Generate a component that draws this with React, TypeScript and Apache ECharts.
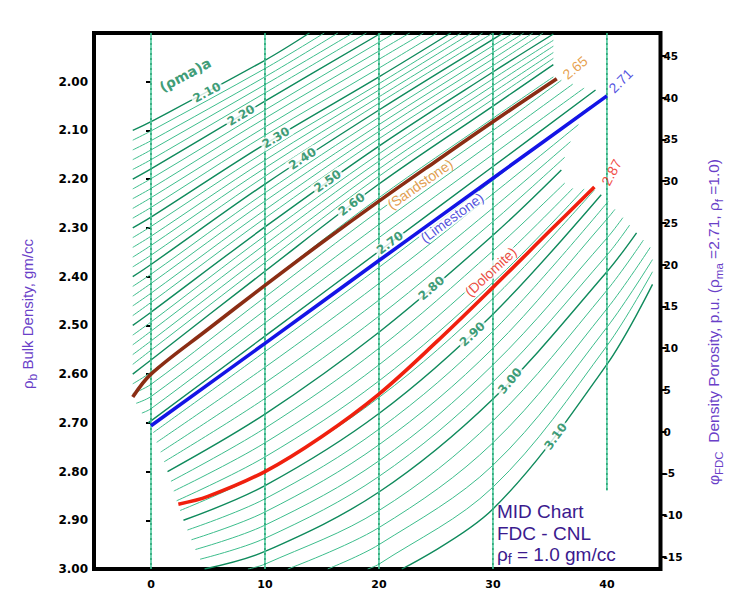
import React, { useEffect, useRef } from "react";
import * as echarts from "echarts";

// Apparent matrix density contours, (rho_ma)a in g/cc, one line every 0.02
const rhoMa = [
  2.1, 2.12, 2.14, 2.16, 2.18, 2.2, 2.22, 2.24, 2.26, 2.28,
  2.3, 2.32, 2.34, 2.36, 2.38, 2.4, 2.42, 2.44, 2.46, 2.48,
  2.5, 2.52, 2.54, 2.56, 2.58, 2.6, 2.62, 2.64, 2.66, 2.68,
  2.7, 2.72, 2.74, 2.76, 2.78, 2.8, 2.82, 2.84, 2.86, 2.88,
  2.9, 2.92, 2.94, 2.96, 2.98, 3.0, 3.02, 3.04, 3.06, 3.08, 3.1,
];

// First point of each contour [phiN (CNL, p.u.), rhoB (g/cc)]
const contourStart: [number, number][] = [
  [-1.6, 2.1], [-1.6, 2.12], [-1.6, 2.14], [-1.6, 2.16], [-1.6, 2.18],
  [-1.6, 2.2], [-1.6, 2.22], [-1.6, 2.24], [-1.6, 2.26], [-1.6, 2.28],
  [-1.6, 2.3], [-1.6, 2.32], [-1.6, 2.34], [-1.6, 2.36], [-1.6, 2.38],
  [-1.6, 2.4], [-1.6, 2.42], [-1.6, 2.44], [-1.6, 2.46], [-1.6, 2.48],
  [-1.6, 2.5], [-1.6, 2.52], [-1.6, 2.54], [-1.6, 2.56], [-1.6, 2.58],
  [-1.6, 2.6], [-1.6, 2.62], [-1.6, 2.64], [-1.3, 2.66], [-0.8, 2.68],
  [-0.25, 2.7], [0.2, 2.72], [0.5, 2.74], [0.85, 2.76], [1.15, 2.78],
  [1.45, 2.8], [1.75, 2.82], [2.0, 2.84], [2.25, 2.86], [2.55, 2.88],
  [2.85, 2.9], [3.2, 2.92], [3.55, 2.94], [3.9, 2.96], [4.3, 2.98],
  [4.7, 3.0], [8.5, 3.0], [12.0, 3.0], [15.5, 3.0], [19.0, 3.0], [22.0, 3.0],
];

// Bulk density of each contour where it crosses phiN = 0, 10, 20, 30, 40
const rhoAtPhi0 = [
  2.082, 2.101, 2.121, 2.14, 2.16, 2.179, 2.199, 2.219, 2.238, 2.258,
  2.278, 2.297, 2.317, 2.336, 2.356, 2.375, 2.395, 2.414, 2.434, 2.453,
  2.473, 2.493, 2.512, 2.532, 2.551, 2.571, 2.596, 2.621, 2.646, 2.671,
  2.696, null, null, null, null, null, null, null, null, null,
  null, null, null, null, null, null, null, null, null, null, null,
];
const rhoAtPhi10 = [
  1.956, 1.973, 1.99, 2.006, 2.023, 2.04, 2.058, 2.075, 2.093, 2.11,
  2.128, 2.144, 2.161, 2.177, 2.194, 2.21, 2.228, 2.245, 2.263, 2.28,
  2.298, 2.316, 2.334, 2.353, 2.371, 2.389, 2.416, 2.442, 2.469, 2.495,
  2.522, 2.554, 2.586, 2.618, 2.65, 2.682, 2.711, 2.741, 2.77, 2.8,
  2.829, 2.856, 2.883, 2.91, 2.937, 2.964, 2.99, null, null, null, null,
];
const rhoAtPhi20 = [
  null, null, null, null, null, null, 1.919, 1.937, 1.954, 1.972,
  1.99, 2.004, 2.017, 2.031, 2.044, 2.058, 2.073, 2.088, 2.102, 2.117,
  2.132, 2.148, 2.163, 2.179, 2.194, 2.21, 2.238, 2.265, 2.293, 2.32,
  2.348, 2.381, 2.414, 2.448, 2.481, 2.514, 2.547, 2.581, 2.614, 2.648,
  2.681, 2.713, 2.745, 2.778, 2.81, 2.842, 2.88, 2.915, 2.95, 2.99, null,
];
const rhoAtPhi30 = [
  null, null, null, null, null, null, null, null, null, null,
  null, null, null, null, null, 1.913, 1.926, 1.94, 1.953, 1.967,
  1.98, 1.994, 2.008, 2.022, 2.036, 2.05, 2.075, 2.1, 2.124, 2.149,
  2.174, 2.202, 2.23, 2.259, 2.287, 2.315, 2.347, 2.38, 2.412, 2.445,
  2.477, 2.512, 2.547, 2.581, 2.616, 2.651, 2.696, 2.741, 2.787, 2.832, 2.877,
];
const rhoAtPhi40 = [
  null, null, null, null, null, null, null, null, null, null,
  null, null, null, null, null, null, null, null, null, null,
  null, null, null, null, null, null, null, null, null, null,
  null, null, null, null, null, null, null, null, null, null,
  null, null, 2.282, 2.321, 2.356, 2.39, 2.428, 2.466, 2.504, 2.542, 2.58,
];
const columnPhi = [0, 10, 20, 30, 40];

// Last point of each contour [phiN, rhoB]
const contourEnd: [number, number][] = [
  [13.9, 1.9], [15.2, 1.9], [16.4, 1.9], [17.7, 1.9], [18.9, 1.9],
  [20.2, 1.9], [21.4, 1.9], [22.7, 1.9], [23.9, 1.9], [25.1, 1.9],
  [26.3, 1.9], [27.2, 1.9], [28.1, 1.9], [29.1, 1.9], [30.0, 1.9],
  [30.9, 1.9], [31.8, 1.9], [32.7, 1.9], [33.5, 1.9], [34.4, 1.9],
  [35.3, 1.902], [35.3, 1.915], [35.3, 1.927], [35.3, 1.94], [35.3, 1.952],
  [35.3, 1.965], [35.3, 1.99], [36.0, 1.997], [37.0, 2.005], [38.0, 2.013],
  [39.0, 2.017], [38.5, 2.051], [37.5, 2.088], [36.8, 2.123], [36.3, 2.155],
  [36.0, 2.181], [36.3, 2.208], [37.0, 2.219], [38.0, 2.22], [38.9, 2.222],
  [39.5, 2.232], [40.1, 2.246], [40.7, 2.262], [41.4, 2.279], [42.0, 2.294],
  [42.6, 2.31], [43.2, 2.325], [43.8, 2.34], [44.0, 2.365], [44.0, 2.39], [44.0, 2.416],
];

// Lithology lines [phiN, rhoB]
const sandstone: [number, number][] = [
  [-1.6, 2.647], [0, 2.6], [5, 2.508], [10, 2.418], [15, 2.33],
  [20, 2.245], [25, 2.163], [30, 2.082], [35.6, 1.994],
];
const limestone: [number, number][] = [
  [0, 2.706], [10, 2.537], [20, 2.367], [30, 2.198], [40, 2.029],
];
const dolomite: [number, number][] = [
  [2.4, 2.867], [5, 2.851], [10, 2.8], [15, 2.728], [20, 2.641],
  [25, 2.535], [30, 2.422], [35, 2.306], [38.9, 2.216],
];

// Axis ticks
const neutronTicks = [0, 10, 20, 30, 40];
const bulkDensityTicks = [2.0, 2.1, 2.2, 2.3, 2.4, 2.5, 2.6, 2.7, 2.8, 2.9, 3.0];
const porosityTicks = [-15, -10, -5, 0, 5, 10, 15, 20, 25, 30, 35, 40, 45];

// Vertical reference lines at the neutron porosity grid values
const verticalPhi = [0, 10, 20, 30, 40];
const verticalBottom = [3.0, 3.0, 3.0, 3.0, 2.839];

// Contour value labels, placed on their lines
const contourLabels = [
  { text: "(ρma)a", phi: 3.0, rho: 1.986, angle: 28, boxed: false },
  { text: "2.10", phi: 4.9, rho: 2.022, angle: 28, boxed: true },
  { text: "2.20", phi: 7.9, rho: 2.069, angle: 30, boxed: true },
  { text: "2.30", phi: 10.96, rho: 2.115, angle: 31, boxed: true },
  { text: "2.40", phi: 13.3, rho: 2.158, angle: 33, boxed: true },
  { text: "2.50", phi: 15.5, rho: 2.204, angle: 35, boxed: true },
  { text: "2.60", phi: 17.6, rho: 2.252, angle: 37, boxed: true },
  { text: "2.70", phi: 20.96, rho: 2.331, angle: 37, boxed: true },
  { text: "2.80", phi: 24.6, rho: 2.424, angle: 41, boxed: true },
  { text: "2.90", phi: 28.2, rho: 2.518, angle: 43, boxed: true },
  { text: "3.00", phi: 31.5, rho: 2.614, angle: 50, boxed: true },
  { text: "3.10", phi: 35.5, rho: 2.728, angle: 54, boxed: true },
];

// Lithology names and matrix densities
const lithologyLabels = [
  { text: "(Sandstone)", phi: 23.6, rho: 2.21, angle: 35, color: "#dc8420", boxed: true },
  { text: "(Limestone)", phi: 26.4, rho: 2.279, angle: 36, color: "#2727d4", boxed: true },
  { text: "(Dolomite)", phi: 29.8, rho: 2.39, angle: 43, color: "#e8200e", boxed: true },
  { text: "2.65", phi: 37.2, rho: 1.971, angle: 40, color: "#e08a22", boxed: false },
  { text: "2.71", phi: 41.2, rho: 1.998, angle: 45, color: "#2a2ad8", boxed: false },
  { text: "2.87", phi: 40.4, rho: 2.186, angle: 62, color: "#ee2211", boxed: false },
];

const TICK_FONT = "DejaVu Sans";
const TEXT_FONT = "Liberation Sans";
const PURPLE = "#6a3fc8";
const INDIGO = "#3b1a8e";

function buildOption() {
  const columns = [rhoAtPhi0, rhoAtPhi10, rhoAtPhi20, rhoAtPhi30, rhoAtPhi40];
  const series: any[] = [];

  rhoMa.forEach((value, i) => {
    const pts: [number, number][] = [contourStart[i]];
    columns.forEach((col, c) => {
      const v = col[i];
      if (v != null) pts.push([columnPhi[c], v]);
    });
    pts.push(contourEnd[i]);
    const major = Math.round(value * 100) % 10 === 0;
    series.push({
      type: "line",
      name: "ρma " + value.toFixed(2),
      data: pts,
      smooth: 0.35,
      symbol: "none",
      silent: true,
      z: 2,
      lineStyle: { color: major ? "#0f8a5c" : "#3dbd8c", width: major ? 1.4 : 1 },
    });
  });

  verticalPhi.forEach((phi, i) => {
    const data = [[phi, 1.9], [phi, verticalBottom[i]]];
    series.push({
      type: "line", data, symbol: "none", silent: true, z: 3,
      lineStyle: { color: "#4cc99d", width: 1.6 },
    });
    series.push({
      type: "line", data, symbol: "none", silent: true, z: 3,
      lineStyle: { color: "#13925f", width: 1.1, type: [2, 3] },
    });
  });

  series.push({
    type: "scatter",
    silent: true,
    z: 4,
    symbolSize: 1,
    itemStyle: { color: "rgba(0,0,0,0)" },
    data: contourLabels.map((l) => ({
      value: [l.phi, l.rho],
      label: {
        show: true,
        position: "inside",
        formatter: l.text,
        rotate: l.angle,
        color: "#0b8354",
        fontFamily: TICK_FONT,
        fontWeight: "bold",
        fontSize: l.boxed ? 12 : 14,
        backgroundColor: l.boxed ? "#fff" : "transparent",
        padding: [0, 2],
      },
    })),
  });

  series.push({
    type: "scatter",
    silent: true,
    z: 5,
    symbolSize: 1,
    itemStyle: { color: "rgba(0,0,0,0)" },
    data: lithologyLabels.map((l) => ({
      value: [l.phi, l.rho],
      label: {
        show: true,
        position: "inside",
        formatter: l.text,
        rotate: l.angle,
        color: l.color,
        fontFamily: TEXT_FONT,
        fontSize: 14,
        backgroundColor: l.boxed ? "#fff" : "transparent",
        padding: [0, 1],
      },
    })),
  });

  const lith = [
    { data: sandstone, color: "#8b2d14" },
    { data: limestone, color: "#1414e6" },
    { data: dolomite, color: "#f0200e" },
  ];
  lith.forEach((l) => {
    series.push({
      type: "line", data: l.data, smooth: 0.35,
      symbol: "none", silent: true, z: 6,
      lineStyle: { color: l.color, width: 3.6 },
    });
  });

  const sub = (size: number, color: string) => ({
    fontSize: size, fontFamily: TEXT_FONT, fill: color, color, lineHeight: 24, verticalAlign: "bottom",
  });
  const main = (size: number, color: string) => ({
    fontSize: size, fontFamily: TEXT_FONT, fill: color, color, lineHeight: 24, verticalAlign: "middle",
  });

  const graphic = [
    {
      type: "text",
      x: 27, y: 314,
      rotation: Math.PI / 2,
      style: {
        text: "{a|ρ}{b|b}{a| Bulk Density, gm/cc}",
        rich: { a: main(15, PURPLE), b: sub(12, PURPLE) },
        align: "center", verticalAlign: "middle",
        textAlign: "center", textVerticalAlign: "middle",
      },
    },
    {
      type: "text",
      x: 713, y: 322,
      rotation: Math.PI / 2,
      style: {
        text: "{a|φ}{b|FDC}{a|  Density Porosity, p.u. (ρ}{b|ma}{a| =2.71, ρ}{b|f}{a| =1.0)}",
        rich: { a: main(15.5, PURPLE), b: sub(11.5, PURPLE) },
        align: "center", verticalAlign: "middle",
        textAlign: "center", textVerticalAlign: "middle",
      },
    },
    {
      type: "text", x: 497, y: 511,
      style: {
        text: "MID Chart", fill: INDIGO, font: `19px "${TEXT_FONT}"`,
        align: "left", verticalAlign: "middle", textAlign: "left", textVerticalAlign: "middle",
      },
    },
    {
      type: "text", x: 497, y: 533,
      style: {
        text: "FDC - CNL", fill: INDIGO, font: `19px "${TEXT_FONT}"`,
        align: "left", verticalAlign: "middle", textAlign: "left", textVerticalAlign: "middle",
      },
    },
    {
      type: "text", x: 497, y: 554,
      style: {
        text: "{a|ρ}{b|f}{a| = 1.0 gm/cc}",
        rich: { a: main(19, INDIGO), b: sub(14, INDIGO) },
        align: "left", verticalAlign: "middle", textAlign: "left", textVerticalAlign: "middle",
      },
    },
  ];

  return {
    animation: false,
    backgroundColor: "#fff",
    grid: {
      left: 94, right: 92.5, top: 33, bottom: 27,
      show: true, borderColor: "#000", borderWidth: 4, backgroundColor: "#fff",
    },
    xAxis: {
      type: "value", min: -5, max: 44.7,
      axisLine: { show: false }, axisTick: { show: false }, splitLine: { show: false },
      axisLabel: {
        customValues: neutronTicks, color: "#000", fontFamily: TICK_FONT,
        fontWeight: "bold", fontSize: 11, margin: 10,
      },
    },
    yAxis: [
      {
        type: "value", min: 1.9, max: 3.0, inverse: true, position: "left",
        axisLine: { show: false }, splitLine: { show: false },
        axisTick: { show: true, customValues: bulkDensityTicks, length: 5, inside: false, lineStyle: { color: "#000", width: 2 } },
        axisLabel: {
          customValues: bulkDensityTicks, formatter: (v: number) => v.toFixed(2),
          color: "#000", fontFamily: TICK_FONT, fontWeight: "bold", fontSize: 12, margin: 6,
        },
      },
      {
        type: "value", min: -16.44, max: 47.75, position: "right",
        axisLine: { show: false }, splitLine: { show: false },
        axisTick: { show: true, customValues: porosityTicks, length: 6, inside: false, lineStyle: { color: "#000", width: 2 } },
        axisLabel: {
          customValues: porosityTicks, color: "#000", fontFamily: TICK_FONT,
          fontWeight: "bold", fontSize: 10.5, margin: 3,
        },
      },
    ],
    series,
    graphic,
  };
}

export default function App() {
  const ref = useRef<HTMLDivElement>(null);
  useEffect(() => {
    if (!ref.current) return;
    const chart = echarts.init(ref.current, null, { renderer: "svg" });
    chart.setOption(buildOption() as any);
    return () => chart.dispose();
  }, []);
  return (
    <div
      ref={ref}
      style={{ position: "fixed", left: 0, top: 0, width: 753, height: 596, background: "#fff" }}
    />
  );
}
